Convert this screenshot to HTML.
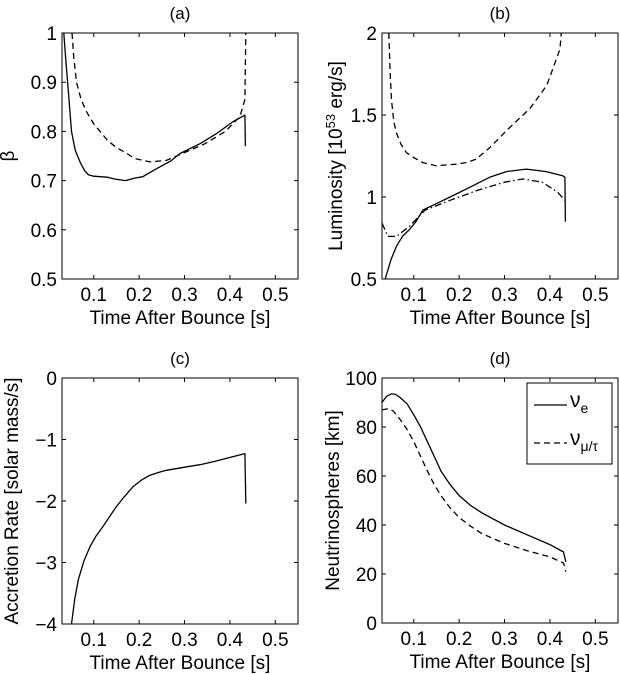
<!DOCTYPE html>
<html><head><meta charset="utf-8">
<style>
body{margin:0;background:#fff;}
svg{display:block;font-family:"Liberation Sans",sans-serif;}
</style></head>
<body>
<svg id="fig" width="620" height="674" viewBox="0 0 620 674"></svg>
<script>
// X ticks shared
const xTicks=[0.1,0.2,0.3,0.4,0.5];
const xTickLabels=["0.1","0.2","0.3","0.4","0.5"];
// Panel (a) beta
const aSolidT=[0.034,0.038,0.044,0.051,0.059,0.07,0.08,0.088,0.1,0.114,0.13,0.147,0.17,0.19,0.208,0.23,0.246,0.27,0.29,0.334,0.371,0.407,0.433,0.434];
const aSolidV=[1.0,0.95,0.88,0.8,0.762,0.737,0.72,0.712,0.709,0.708,0.707,0.703,0.70,0.705,0.708,0.72,0.728,0.74,0.755,0.775,0.796,0.82,0.833,0.77];
const aDashT=[0.052,0.056,0.062,0.072,0.084,0.1,0.114,0.13,0.15,0.17,0.19,0.224,0.26,0.3,0.345,0.39,0.422,0.433,0.435];
const aDashV=[1.0,0.95,0.9,0.865,0.84,0.815,0.80,0.782,0.767,0.757,0.745,0.738,0.741,0.757,0.775,0.80,0.83,0.865,1.0];
const aYTicks=[0.5,0.6,0.7,0.8,0.9,1];
const aYLabels=["0.5","0.6","0.7","0.8","0.9","1"];
// Panel (b) luminosity
const bDashT=[0.045,0.048,0.051,0.056,0.062,0.072,0.084,0.1,0.12,0.149,0.17,0.193,0.215,0.237,0.267,0.31,0.356,0.393,0.422,0.425];
const bDashV=[2.0,1.75,1.59,1.46,1.39,1.32,1.27,1.24,1.21,1.19,1.195,1.2,1.21,1.23,1.3,1.42,1.54,1.68,1.9,2.0];
const bSolidT=[0.037,0.05,0.062,0.075,0.09,0.105,0.12,0.15,0.18,0.224,0.267,0.304,0.348,0.392,0.428,0.433,0.434];
const bSolidV=[0.5,0.62,0.7,0.76,0.8,0.85,0.92,0.96,1.0,1.06,1.12,1.155,1.17,1.155,1.13,1.12,0.85];
const bDotT=[0.03,0.043,0.062,0.09,0.125,0.18,0.24,0.3,0.34,0.383,0.417,0.433];
const bDotV=[0.84,0.76,0.76,0.82,0.92,0.98,1.04,1.09,1.11,1.09,1.03,0.98];
const bYTicks=[0.5,1,1.5,2];
const bYLabels=["0.5","1","1.5","2"];
// Panel (c) accretion
const cT=[0.051,0.058,0.066,0.078,0.092,0.105,0.12,0.135,0.15,0.165,0.186,0.205,0.224,0.245,0.26,0.3,0.334,0.37,0.406,0.433,0.435];
const cV=[-4,-3.6,-3.28,-2.98,-2.74,-2.57,-2.42,-2.25,-2.09,-1.95,-1.77,-1.66,-1.58,-1.53,-1.5,-1.45,-1.41,-1.35,-1.28,-1.23,-2.04];
const cYTicks=[-4,-3,-2,-1,0];
const cYLabels=["\u22124","\u22123","\u22122","\u22121","0"];
// Panel (d) neutrinospheres
const dSolidT=[0.03,0.04,0.05,0.06,0.07,0.085,0.1,0.115,0.13,0.145,0.16,0.18,0.2,0.225,0.25,0.3,0.35,0.4,0.43,0.435];
const dSolidV=[90,92.5,93.5,93.3,92,89.5,85,80,74,68,62,56.5,52,48,45,40,36,32,29,25];
const dDashT=[0.03,0.045,0.055,0.07,0.085,0.1,0.115,0.13,0.145,0.16,0.18,0.2,0.225,0.25,0.3,0.35,0.4,0.43,0.435];
const dDashV=[87,87.5,86.5,83,79,74,68,62,56.5,52,47,43,39.5,36.5,32.5,29.5,27,24.5,21];
const dYTicks=[0,20,40,60,80,100];
const dYLabels=["0","20","40","60","80","100"];

const NS="http://www.w3.org/2000/svg";
const svg=document.getElementById('fig');
function mk(tag,attrs,parent){const e=document.createElementNS(NS,tag);for(const k in attrs)e.setAttribute(k,attrs[k]);(parent||svg).appendChild(e);return e;}

function panel(id,L,T,W,H,ymin,ymax,yTicks,yLabels,title,ylabel){
  const g=mk('g',{});
  
  
  const xs=t=>L+(t-0.03)/(0.55-0.03)*W;
  const ys=v=>T+H-(v-ymin)/(ymax-ymin)*H;
  const box=mk('rect',{x:L,y:T,width:W,height:H,fill:'none',stroke:'#000','stroke-width':1},g);
  
  
  xTicks.forEach((t,i)=>{
    const x=xs(t);
    mk('line',{x1:x,y1:T+H,x2:x,y2:T+H-4,stroke:'#000'},g);
    mk('line',{x1:x,y1:T,x2:x,y2:T+4,stroke:'#000'},g);
    const tx=mk('text',{x:x,y:T+H+22,'font-size':19,'text-anchor':'middle'},g);
    tx.textContent=xTickLabels[i];
    
    
  });
  yTicks.forEach((v,i)=>{
    const y=ys(v);
    mk('line',{x1:L,y1:y,x2:L+4,y2:y,stroke:'#000'},g);
    mk('line',{x1:L+W,y1:y,x2:L+W-4,y2:y,stroke:'#000'},g);
    const tx=mk('text',{x:L-5,y:y+7,'font-size':19,'text-anchor':'end'},g);
    tx.textContent=yLabels[i];
    
    
  });
  const xl=mk('text',{x:L+W/2,y:T+H+45,'font-size':19,'text-anchor':'middle'},g);
  xl.textContent='Time After Bounce [s]';
  
  
  const tt=mk('text',{x:L+W/2,y:T-14,'font-size':17,'text-anchor':'middle'},g);
  tt.textContent=title;
  
  
  const yoff=(id==='d')?43:(id==='b')?40:(id==='c')?44:48;
  const yl=mk('text',{x:0,y:0,'font-size':19,'text-anchor':'middle',transform:`translate(${L-yoff},${T+H/2}) rotate(-90)`},g);
  if(typeof ylabel==='string'){yl.textContent=ylabel;}else{
    const a=mk('tspan',{},yl);a.textContent=ylabel[0];
    const b=mk('tspan',{dy:-7,'font-size':13},yl);b.textContent=ylabel[1];
    const c=mk('tspan',{dy:7},yl);c.textContent=ylabel[2];
  }
  
  
  const clipId='clip'+id;
  const cp=mk('clipPath',{id:clipId},g);mk('rect',{x:L,y:T,width:W,height:H},cp);
  function line(ts,vs,dash,name){
    const d=ts.map((t,i)=>(i?'L':'M')+xs(t).toFixed(1)+','+ys(vs[i]).toFixed(1)).join(' ');
    const p=mk('path',{d:d,fill:'none',stroke:'#000','stroke-width':1.3,'stroke-linejoin':'round','clip-path':`url(#${clipId})`},g);
    if(dash)p.setAttribute('stroke-dasharray',dash);
    
    
  }
  return {line,g};
}

const pa=panel('a',62,33,236,246,0.5,1,aYTicks,aYLabels,'(a)','\u03b2');
pa.line(aSolidT,aSolidV,null,'beta-nu-e-line');
pa.line(aDashT,aDashV,'6,4','beta-nu-mu-tau-line');

const pb=panel('b',382,33,236,246,0.5,2,bYTicks,bYLabels,'(b)',['Luminosity [10','53',' erg/s]']);
pb.line(bDashT,bDashV,'6,4','luminosity-nu-mu-tau-line');
pb.line(bSolidT,bSolidV,null,'luminosity-nu-e-line');
pb.line(bDotT,bDotV,'7,3,1.5,3','luminosity-anti-nu-e-line');

const pc=panel('c',62,378,236,246,-4,0,cYTicks,cYLabels,'(c)','Accretion Rate [solar mass/s]');
pc.line(cT,cV,null,'accretion-rate-line');

const pd=panel('d',382,378,236,245,0,100,dYTicks,dYLabels,'(d)','Neutrinospheres [km]');
pd.line(dSolidT,dSolidV,null,'neutrinosphere-nu-e-line');
pd.line(dDashT,dDashV,'6,4','neutrinosphere-nu-mu-tau-line');

// legend
const lg=mk('g',{});


mk('rect',{x:527,y:383,width:85,height:81,fill:'#fff',stroke:'#000'},lg);
mk('line',{x1:534,y1:405,x2:567,y2:405,stroke:'#000','stroke-width':1.3},lg);
mk('line',{x1:534,y1:443,x2:567,y2:443,stroke:'#000','stroke-width':1.3,'stroke-dasharray':'6,4'},lg);
const t1=mk('text',{x:570,y:407,'font-size':21},lg);
t1.innerHTML='\u03bd<tspan font-size="14" dy="6">e</tspan>';


const t2=mk('text',{x:570,y:445,'font-size':21},lg);
t2.innerHTML='\u03bd<tspan font-size="14" dy="6">\u03bc/\u03c4</tspan>';


</script>
</body></html>
